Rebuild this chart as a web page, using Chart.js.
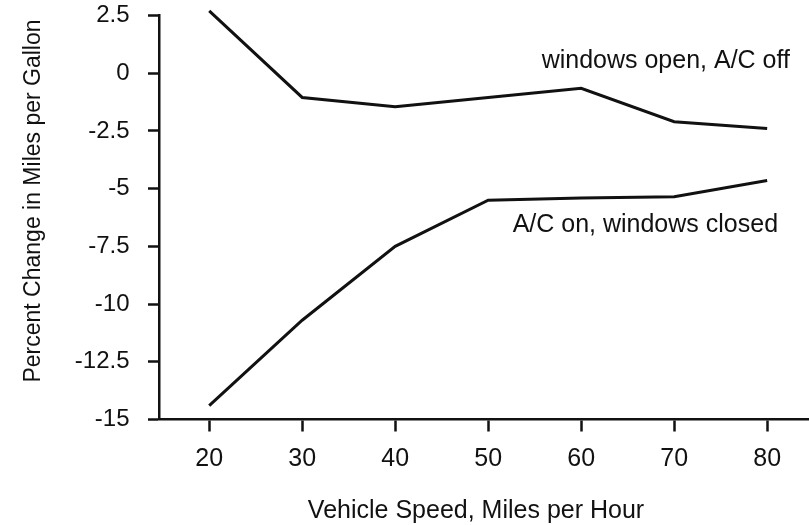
<!DOCTYPE html>
<html>
<head>
<meta charset="utf-8">
<script src="https://cdn.jsdelivr.net/npm/chart.js@4/dist/chart.umd.min.js"></script>
<style>
  html, body { margin: 0; padding: 0; background: #ffffff; }
  #wrap { width: 809px; height: 525px; position: relative; }
</style>
</head>
<body>
<div id="wrap"><canvas id="c"></canvas></div>
<script>
// Fuel economy change versus vehicle speed
const speeds = [20, 30, 40, 50, 60, 70, 80];
const windowsOpen = [2.7, -1.05, -1.45, -1.05, -0.65, -2.1, -2.4];
const acOn = [-14.4, -10.7, -7.5, -5.5, -5.4, -5.35, -4.65];

const xTicks = [20, 30, 40, 50, 60, 70, 80];
const yTicks = [-15, -12.5, -10, -7.5, -5, -2.5, 0, 2.5];
const yTickLabels = ['-15', '-12.5', '-10', '-7.5', '-5', '-2.5', '0', '2.5'];

const xTitle = 'Vehicle Speed, Miles per Hour';
const yTitle = 'Percent Change in Miles per Gallon';
const seriesLabels = ['windows open, A/C off', 'A/C on, windows closed'];
// label centre positions in data units (speed, percent)
const labelAnchors = [[69.1, 0.53], [66.9, -6.59]];

const INK = '#111111';
const FONT = '"Liberation Sans", Arial, Helvetica, sans-serif';

const toPoints = (xs, ys) => xs.map((x, i) => ({ x: x, y: ys[i] }));

// keep the plot frame fixed: no extra room reserved for edge labels
const noEdgePadding = (s) => {
  s.paddingTop = 0; s.paddingBottom = 0; s.paddingLeft = 0; s.paddingRight = 0;
};

const textLayer = {
  id: 'textLayer',
  afterDraw(chart) {
    const { ctx, scales: { x, y } } = chart;
    ctx.save();
    ctx.fillStyle = INK;
    ctx.textAlign = 'center';
    ctx.textBaseline = 'middle';

    // series labels
    ctx.font = '25px ' + FONT;
    seriesLabels.forEach((txt, i) => {
      const [vx, vy] = labelAnchors[i];
      ctx.fillText(txt, x.getPixelForValue(vx), y.getPixelForValue(vy));
    });

    // x axis title
    ctx.font = '25px ' + FONT;
    ctx.fillText(xTitle, 476, 511);

    // y axis title
    ctx.font = '23px ' + FONT;
    ctx.translate(34, 201);
    ctx.rotate(-Math.PI / 2);
    ctx.fillText(yTitle, 0, 0);
    ctx.restore();
  }
};

new Chart(document.getElementById('c'), {
  type: 'line',
  data: {
    datasets: [
      {
        label: seriesLabels[0],
        data: toPoints(speeds, windowsOpen),
        borderColor: INK,
        borderWidth: 3,
        pointRadius: 0,
        tension: 0,
        clip: false
      },
      {
        label: seriesLabels[1],
        data: toPoints(speeds, acOn),
        borderColor: INK,
        borderWidth: 3,
        pointRadius: 0,
        tension: 0,
        clip: false
      }
    ]
  },
  options: {
    responsive: true,
    maintainAspectRatio: false,
    animation: false,
    events: [],
    layout: { padding: { top: 15.5, right: 0, bottom: 0, left: 0 } },
    plugins: {
      legend: { display: false },
      tooltip: { enabled: false },
      title: { display: false }
    },
    scales: {
      x: {
        type: 'linear',
        position: 'bottom',
        min: 14.6,
        max: 84.5,
        afterBuildTicks: (s) => { s.ticks = xTicks.map(v => ({ value: v })); },
        afterFit: (s) => { s.height = 105.5; noEdgePadding(s); },
        grid: {
          display: true,
          drawOnChartArea: false,
          drawTicks: true,
          tickLength: 12,
          tickWidth: 2.5,
          color: INK
        },
        border: { display: true, color: INK, width: 2.5 },
        ticks: {
          color: INK,
          font: { family: FONT, size: 25 },
          padding: 13,
          maxRotation: 0,
          autoSkip: false
        }
      },
      y: {
        type: 'linear',
        position: 'left',
        min: -15,
        max: 2.5,
        afterBuildTicks: (s) => { s.ticks = yTicks.map(v => ({ value: v })); },
        afterFit: (s) => { s.width = 159; noEdgePadding(s); },
        grid: {
          display: true,
          drawOnChartArea: false,
          drawTicks: true,
          tickLength: 11,
          tickWidth: 2.5,
          color: INK
        },
        border: { display: true, color: INK, width: 2.5 },
        ticks: {
          color: INK,
          font: { family: FONT, size: 24 },
          padding: 18.5,
          autoSkip: false,
          callback: (v) => {
            const i = yTicks.indexOf(v);
            return i >= 0 ? yTickLabels[i] : '';
          }
        }
      }
    }
  },
  plugins: [textLayer]
});
</script>
</body>
</html>
